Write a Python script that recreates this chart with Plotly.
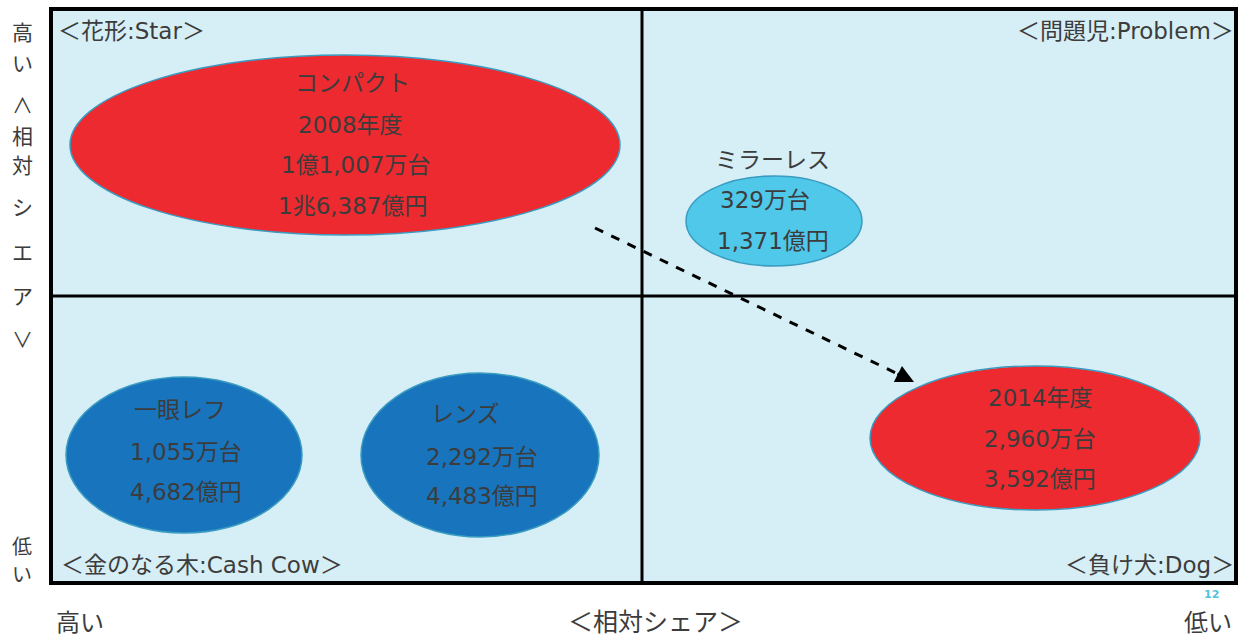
import plotly.graph_objects as go

# ---- data (labels) ----
quadrant_labels = ["＜花形:Star＞", "＜問題児:Problem＞", "＜金のなる木:Cash Cow＞", "＜負け犬:Dog＞"]
products = ["コンパクト", "ミラーレス", "一眼レフ", "レンズ", "コンパクト2014"]
product_titles = ["コンパクト", "ミラーレス", "一眼レフ", "レンズ", ""]
years = ["2008年度", "", "", "", "2014年度"]
units = ["1億1,007万台", "329万台", "1,055万台", "2,292万台", "2,960万台"]
revenue = ["1兆6,387億円", "1,371億円", "4,682億円", "4,483億円", "3,592億円"]
y_axis_label = ["高", "い", "∧", "相", "対", "シ", "エ", "ア", "∨"]
y_axis_low = ["低", "い"]
x_axis_labels = ["高い", "＜相対シェア＞", "低い"]
page_number = "12"

# ---- layout (pixel geometry of the drawing) ----
W, H = 1245, 637
FONT = "DejaVu Sans, Noto Sans CJK JP, sans-serif"
CJK = "Noto Sans CJK JP, sans-serif"
TXT = "#3c3c3c"
BG = "#d6eef5"
frame = dict(x0=51, y0=9, x1=1236, y1=583)
mid_x, mid_y = 642, 296

ellipses = [  # cx, cy, rx, ry, colour
    (345, 145, 275, 90, "#ec2a2f"),
    (774, 221, 88, 45, "#4fc8ea"),
    (184, 455, 118, 78, "#1874bd"),
    (480, 455, 119, 82, "#1874bd"),
    (1035, 438, 165, 72, "#ec2a2f"),
]
text_rows = [  # (x, y) for title, year, units, revenue
    [(352, 83), (350, 125), (355, 165), (352, 206)],
    [(772, 160), None, (765, 200), (773, 241)],
    [(180, 410), None, (186, 452), (186, 492)],
    [(465, 414), None, (482, 457), (482, 496)],
    [None, (1040, 398), (1040, 439), (1040, 479)],
]

fig = go.Figure()
fig.add_trace(go.Scatter(x=[0, W], y=[0, H], mode="markers", marker=dict(opacity=0), hoverinfo="skip", showlegend=False))

shapes = []
shapes.append(dict(type="rect", xref="x", yref="y", **frame, fillcolor=BG, line=dict(width=0), layer="below"))
for cx, cy, rx, ry, col in ellipses:
    shapes.append(dict(type="circle", xref="x", yref="y", x0=cx - rx, x1=cx + rx, y0=cy - ry, y1=cy + ry,
                       fillcolor=col, line=dict(color="#3a9cc0", width=1.5), layer="below"))
shapes.append(dict(type="line", xref="x", yref="y", x0=mid_x, x1=mid_x, y0=frame["y0"], y1=frame["y1"], line=dict(color="black", width=3)))
shapes.append(dict(type="line", xref="x", yref="y", x0=frame["x0"], x1=frame["x1"], y0=mid_y, y1=mid_y, line=dict(color="black", width=3)))
shapes.append(dict(type="rect", xref="x", yref="y", **frame, line=dict(color="black", width=4)))
# dashed arrow body
shapes.append(dict(type="line", xref="x", yref="y", x0=595, y0=228, x1=900, y1=375, line=dict(color="black", width=3, dash="dash")))

ann = []
def T(x, y, s, size=21, anchor="center", color=TXT, family=FONT):
    ann.append(dict(x=x, y=y, xref="x", yref="y", text=s, showarrow=False, xanchor=anchor, yanchor="middle",
                    borderpad=0, font=dict(family=family, size=size, color=color)))

for i in range(len(products)):
    pos = text_rows[i]
    vals = [product_titles[i], years[i], units[i], revenue[i]]
    for p, v in zip(pos, vals):
        if p and v:
            T(p[0], p[1], v, size=23)

T(57, 31, quadrant_labels[0], anchor="left", size=23)
T(1235, 31, quadrant_labels[1], anchor="right", size=23)
T(60, 565, quadrant_labels[2], anchor="left", size=23)
T(1235, 565, quadrant_labels[3], anchor="right", size=23)

ys = [31, 62, 104, 135, 164, 206, 251, 295, 338]
for ch, y in zip(y_axis_label, ys):
    T(22, y, ch, size=21, family=CJK)
for ch, y in zip(y_axis_low, [545, 573]):
    T(22, y, ch, size=20, family=CJK)

T(80, 620, x_axis_labels[0], size=24, family=CJK)
T(655, 620, x_axis_labels[1], size=25, family=CJK)
T(1208, 620, x_axis_labels[2], size=24, family=CJK)
T(1211, 594, "<b>" + page_number + "</b>", size=11, color="#4fc3e0")

# arrow head
ann.append(dict(x=914, y=382, ax=896, ay=373, xref="x", yref="y", axref="x", ayref="y", text="", showarrow=True,
                arrowhead=2, arrowsize=1.2, arrowwidth=3, arrowcolor="black"))

fig.update_layout(
    width=W, height=H, margin=dict(l=0, r=0, t=0, b=0),
    paper_bgcolor="white", plot_bgcolor="white",
    xaxis=dict(range=[0, W], visible=False, fixedrange=True),
    yaxis=dict(range=[H, 0], visible=False, fixedrange=True),
    shapes=shapes, annotations=ann, showlegend=False,
)
fig.write_html("out.html", config=dict(displayModeBar=False))
